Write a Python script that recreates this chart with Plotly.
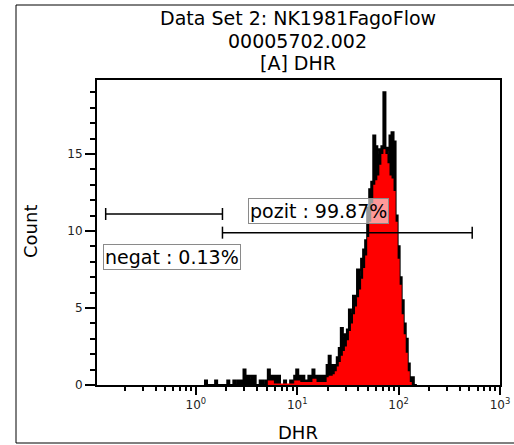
import plotly.graph_objects as go

# ---- data ----
# histogram bins: log10(DHR) bin centers (0.02 log-unit channels)
bin_log_centers = [round(0.08 + 0.02 * i, 2) for i in range(106)]

# raw counts per channel (black histogram)
raw_counts = [
    0, 0.3, 0, 0, 0, 0, 0.3, 0, 0, 0,
    0, 0, 0.3, 0, 0, 0.3, 0, 0.3, 0.3, 0,
    1.0, 0.6, 0.6, 0.3, 0.6, 0.6, 0, 0, 0.3, 0.3,
    0, 0.3, 1.0, 0.6, 0.6, 0.6, 0.3, 0.6, 0, 0,
    0.3, 0, 0, 0.3, 0, 0.6, 1.0, 0.6, 0.6, 0.6,
    0.3, 0.3, 0.6, 0.3, 1.0, 0.6, 0.6, 0.6, 0.3, 0.6,
    0.3, 1.3, 1.9, 1.0, 1.3, 1.2, 1.8, 2.4, 3.7, 2.9,
    3.3, 3.6, 4.9, 4.6, 5.8, 5.5, 7.5, 6.8, 8.2, 8.8,
    9.4, 11.5, 12.7, 13.2, 16.2, 15.5, 14.9, 15.3, 15.5, 19.0,
    15.4, 14.7, 16.2, 16.4, 15.8, 11.0, 9.0, 7.0, 5.5, 4.0,
    3.0, 1.4, 0.5, 0.5, 0, 0,
]

# smoothed gated counts (red fill)
fill_counts = [
    0, 0, 0, 0, 0, 0, 0, 0, 0, 0,
    0, 0, 0, 0, 0, 0, 0, 0, 0, 0,
    0, 0, 0, 0, 0, 0, 0, 0, 0, 0,
    0, 0, 0.3, 0.3, 0.3, 0.1, 0.1, 0.1, 0.1, 0.1,
    0.1, 0.1, 0.1, 0.1, 0.1, 0.3, 0.3, 0.3, 0.2, 0.2,
    0.2, 0.2, 0.2, 0.2, 0.4, 0.4, 0.2, 0.2, 0.2, 0.2,
    0.2, 0.5, 0.6, 0.6, 0.7, 0.9, 1.2, 1.5, 1.9, 2.2,
    2.5, 2.9, 3.5, 4.0, 4.6, 5.1, 5.7, 6.2, 6.9, 7.6,
    8.4, 9.6, 10.6, 11.8, 13.0, 13.3, 13.6, 14.3, 15.0, 15.3,
    15.0, 14.4, 13.6, 13.4, 12.6, 10.6, 8.2, 6.5, 4.6, 3.3,
    2.1, 0.9, 0.2, 0, 0, 0,
]

# gates (DHR limits, count level) and labels
gate_names = ["negat", "pozit"]
gate_lo = [0.129, 1.83]
gate_hi = [1.83, 532.0]
gate_level = [11.1, 9.89]
gate_pct = ["0.13%", "99.87%"]
# label positions: (log10 DHR, count)
label_log_x = [-0.236, 1.207]
label_y = [8.28, 11.27]

x_tick_vals = [1, 10, 100, 1000]
x_tick_text = ["10<sup>0</sup>", "10<sup>1</sup>", "10<sup>2</sup>", "10<sup>3</sup>"]
x_minor_vals = [m * d for d in [0.1, 1, 10, 100] for m in range(2, 10)]
y_tick_vals = [0, 5, 10, 15]

title_lines = ["Data Set 2: NK1981FagoFlow", "00005702.002", "[A] DHR"]

# ---- figure ----
W, H = 514, 445
L_M, R_M, T_M, B_M = 97, 14, 80, 60
PW, PH = W - L_M - R_M, H - T_M - B_M
font_family = "DejaVu Sans"


def px_to_paper_x(px):
    return (px - L_M) / PW


def px_to_paper_y(py):
    return (H - B_M - py) / PH


x_vals = [10 ** v for v in bin_log_centers]

fig = go.Figure()
fig.add_trace(go.Scatter(
    x=x_vals, y=raw_counts, mode="lines",
    line=dict(width=2, shape="hvh", color="black"),
    fill="tozeroy", fillcolor="black", hoverinfo="skip",
))
fig.add_trace(go.Scatter(
    x=x_vals, y=fill_counts, mode="lines",
    line=dict(width=0, shape="hvh", color="red"),
    fill="tozeroy", fillcolor="#ff0000", hoverinfo="skip",
))

cap = 0.39
for lo, hi, lv in zip(gate_lo, gate_hi, gate_level):
    fig.add_trace(go.Scatter(
        x=[lo, hi, None, lo, lo, None, hi, hi],
        y=[lv, lv, None, lv - cap, lv + cap, None, lv - cap, lv + cap],
        mode="lines", line=dict(color="black", width=1.5), hoverinfo="skip",
    ))

for name, pct, lx, ly in zip(gate_names, gate_pct, label_log_x, label_y):
    fig.add_annotation(
        x=lx, y=ly, xref="x", yref="y", text=f"{name} : {pct}",
        showarrow=False, font=dict(family=font_family, size=19, color="black"),
        bgcolor="rgba(255,255,255,0.6)", bordercolor="#8a8a8a", borderwidth=1,
        borderpad=1,
    )

fig.update_layout(
    width=W, height=H,
    margin=dict(l=L_M, r=R_M, t=T_M, b=B_M),
    paper_bgcolor="white", plot_bgcolor="white",
    showlegend=False,
    font=dict(family=font_family, color="black"),
    xaxis=dict(
        type="log", range=[-0.975, 3.0], automargin=False,
        showline=True, linecolor="black", linewidth=2, mirror=True,
        showgrid=False, zeroline=False,
        tickmode="array", tickvals=x_tick_vals, ticktext=x_tick_text,
        ticks="outside", ticklen=8, tickwidth=1.5, tickcolor="black",
        tickfont=dict(family=font_family, size=12, color="#222"),
        minor=dict(tickmode="array", tickvals=x_minor_vals, ticks="outside",
                   ticklen=4, tickwidth=1.5, tickcolor="black", showgrid=False),
    ),
    yaxis=dict(
        range=[0, 19.8], automargin=False,
        showline=True, linecolor="black", linewidth=2, mirror=True,
        showgrid=False, zeroline=False,
        tickmode="array", tickvals=y_tick_vals,
        ticks="outside", ticklen=10, tickwidth=1.5, tickcolor="black",
        tickfont=dict(family=font_family, size=12, color="#222"),
        minor=dict(dtick=1, ticks="outside", ticklen=5, tickwidth=1.5,
                   tickcolor="black", showgrid=False),
    ),
)

# title lines
for line, py in zip(title_lines, [18, 41, 63]):
    fig.add_annotation(x=px_to_paper_x(297.5), y=px_to_paper_y(py), xref="paper", yref="paper",
                       text=line, showarrow=False, xanchor="center", yanchor="middle",
                       font=dict(family=font_family, size=19, color="black"))

# axis titles
fig.add_annotation(x=px_to_paper_x(298), y=px_to_paper_y(432), xref="paper", yref="paper",
                   text="DHR", showarrow=False, xanchor="center", yanchor="middle",
                   font=dict(family=font_family, size=18, color="black"))
fig.add_annotation(x=px_to_paper_x(30), y=px_to_paper_y(232), xref="paper", yref="paper",
                   text="Count", showarrow=False, textangle=-90,
                   xanchor="center", yanchor="middle",
                   font=dict(family=font_family, size=18, color="black"))

# outer frame
fig.add_shape(type="rect", xref="paper", yref="paper",
              x0=px_to_paper_x(16), x1=px_to_paper_x(520),
              y0=px_to_paper_y(443), y1=px_to_paper_y(5),
              line=dict(color="black", width=1))

fig.write_html("out.html")
